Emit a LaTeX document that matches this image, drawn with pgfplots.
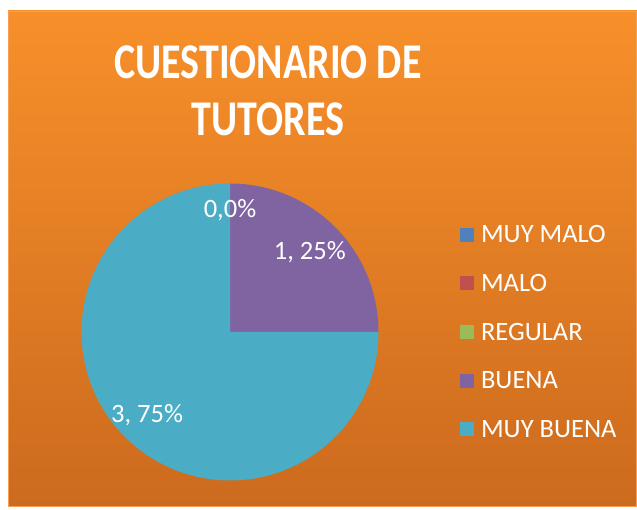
\documentclass[border=0pt]{standalone}
\usepackage{pgfplots}
\pgfplotsset{compat=1.18}
\usepackage{pgfplotstable}
\usepackage{fontspec}
\setmainfont{Carlito}
\newfontfamily\titlefont[FakeStretch=0.8]{Carlito}
\newfontfamily\labfont{Carlito}
\definecolor{orTop}{HTML}{F7902A}
\definecolor{orBot}{HTML}{CC6A1E}
\definecolor{orEdge}{HTML}{F7A055}
\definecolor{cA}{HTML}{4F81BD}
\definecolor{cM}{HTML}{C0504D}
\definecolor{cR}{HTML}{9BBB59}
\definecolor{cB}{HTML}{8064A2}
\definecolor{cMB}{HTML}{4BACC6}
\pgfplotstableread[col sep=comma]{
cat,value
MUY MALO,0
MALO,0
REGULAR,0
BUENA,1.25
MUY BUENA,3.75
}\piedata
\begin{document}
\begin{tikzpicture}
\pgfplotstablegetelem{0}{value}\of\piedata \pgfmathsetmacro\vA{\pgfplotsretval}
\pgfplotstablegetelem{1}{value}\of\piedata \pgfmathsetmacro\vM{\pgfplotsretval}
\pgfplotstablegetelem{2}{value}\of\piedata \pgfmathsetmacro\vR{\pgfplotsretval}
\pgfplotstablegetelem{3}{value}\of\piedata \pgfmathsetmacro\vB{\pgfplotsretval}
\pgfplotstablegetelem{4}{value}\of\piedata \pgfmathsetmacro\vMB{\pgfplotsretval}
\pgfmathsetmacro\tot{\vA+\vM+\vR+\vB+\vMB}
\pgfmathsetmacro\aOne{90-360*(\vA+\vM+\vR)/\tot}
\pgfmathsetmacro\aTwo{\aOne-360*\vB/\tot}
\pgfmathsetmacro\aThree{\aTwo-360*\vMB/\tot}
\pgfmathsetmacro\mB{(\aOne+\aTwo)/2}
\pgfmathsetmacro\mMB{(\aTwo+\aThree)/2}
\useasboundingbox (0,0) rectangle (637pt,510pt);
\fill[white] (0,0) rectangle (637pt,510pt);
\shade[top color=orTop, bottom color=orBot] (8pt,3pt) rectangle (637pt,499pt);
\draw[orEdge, line width=1.2pt] (8.6pt,3.6pt) rectangle (636.4pt,498.4pt);
\node[anchor=base, text=white, inner sep=0pt, font=\titlefont\bfseries\fontsize{50}{57}\selectfont] at (268pt,431pt) {CUESTIONARIO DE};
\node[anchor=base, text=white, inner sep=0pt, font=\titlefont\bfseries\fontsize{50}{57}\selectfont] at (268pt,374pt) {TUTORES};
\begin{axis}[
  at={(81.5pt,29.5pt)}, anchor=south west,
  scale only axis, width=297pt, height=297pt,
  xmin=-1, xmax=1, ymin=-1, ymax=1,
  hide axis, clip=false,
  legend image code/.code={\fill[#1] (0pt,-7pt) rectangle (14pt,7pt); \path (19pt,0pt);},
  legend cell align=left,
  legend style={draw=none, fill=none, text=white,
    font=\labfont\fontsize{26.5}{26.5}\selectfont,
    at={(1.274,0.5)}, anchor=west, inner sep=0pt,
    row sep=26pt,
    nodes={inner sep=2pt}},
]
\addplot[fill=cB, draw=none, domain=\aTwo:\aOne, samples=60, forget plot]
  ({cos(x)},{sin(x)}) -- (axis cs:0,0) -- cycle;
\addplot[fill=cMB, draw=none, domain=\aThree:\aTwo, samples=180, forget plot]
  ({cos(x)},{sin(x)}) -- (axis cs:0,0) -- cycle;
\addlegendimage{fill=cA, draw=none}
\addlegendentry{MUY MALO}
\addlegendimage{fill=cM, draw=none}
\addlegendentry{MALO}
\addlegendimage{fill=cR, draw=none}
\addlegendentry{REGULAR}
\addlegendimage{fill=cB, draw=none}
\addlegendentry{BUENA}
\addlegendimage{fill=cMB, draw=none}
\addlegendentry{MUY BUENA}
\node[text=white, font=\labfont\fontsize{26.5}{26.5}\selectfont] at (axis cs:{0.82*cos(\aOne)},{0.82*sin(\aOne)}) {0,0\%};
\node[text=white, font=\labfont\fontsize{26.5}{26.5}\selectfont] at (axis cs:{0.76*cos(\mB)},{0.76*sin(\mB)}) {1, 25\%};
\node[text=white, font=\labfont\fontsize{26.5}{26.5}\selectfont] at (axis cs:{0.79*cos(\mMB)},{0.79*sin(\mMB)}) {3, 75\%};
\end{axis}
\end{tikzpicture}
\end{document}
